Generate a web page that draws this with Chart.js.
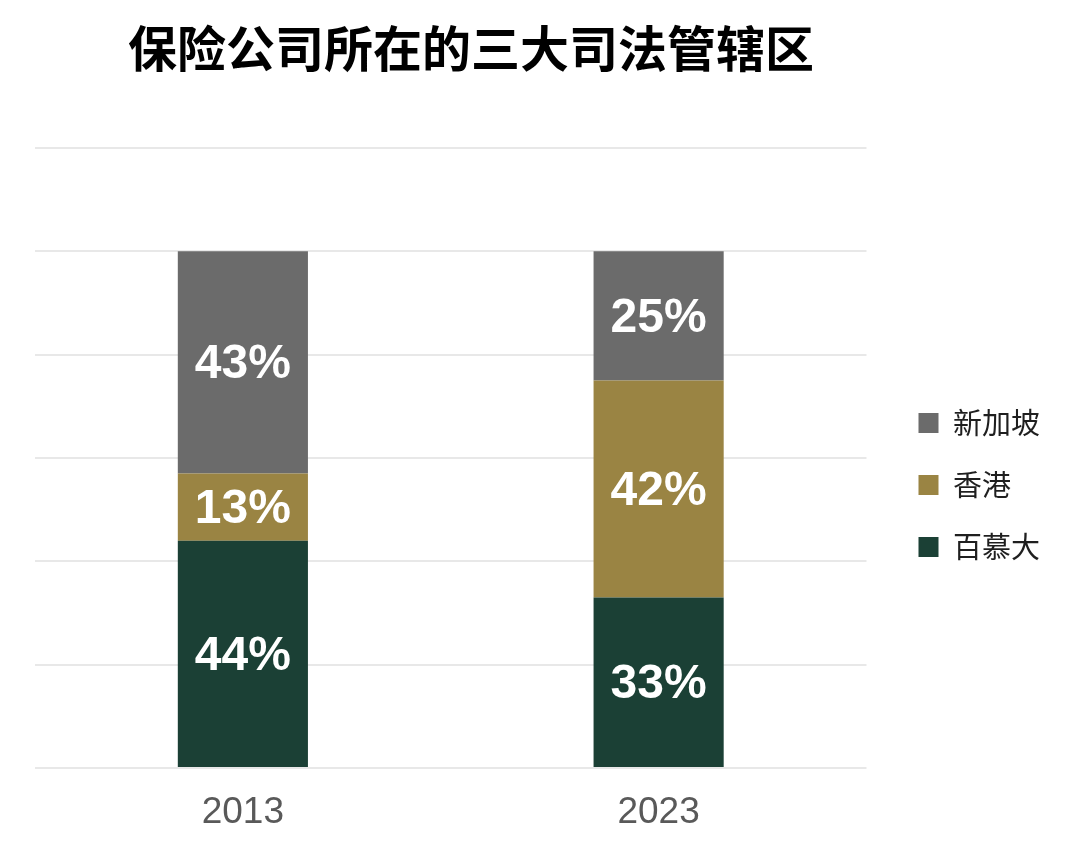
<!DOCTYPE html>
<html>
<head>
<meta charset="utf-8">
<script src="https://cdn.jsdelivr.net/npm/chart.js@4/dist/chart.umd.min.js"></script>
<style>
  html, body { margin: 0; padding: 0; background: #ffffff; }
  #wrap { width: 1078px; height: 854px; position: relative; }
</style>
</head>
<body>
<div id="wrap"><canvas id="c"></canvas></div>
<script>
const titleText = '保险公司所在的三大司法管辖区';
const categories = ['2013', '2023'];
const seriesNames = ['百慕大', '香港', '新加坡'];
const bermuda = [44, 33];
const hongkong = [13, 42];
const singapore = [43, 25];
const seriesColors = ['#1b4035', '#9a8443', '#6b6b6b'];

const titlePlugin = {
  id: 'customTitle',
  afterDraw(chart) {
    const ctx = chart.ctx;
    ctx.save();
    ctx.font = 'bold 49px "Noto Sans CJK SC", sans-serif';
    ctx.fillStyle = '#000000';
    ctx.textAlign = 'center';
    ctx.textBaseline = 'middle';
    ctx.fillText(titleText, 471, 48);
    ctx.restore();
  }
};

const barLabelPlugin = {
  id: 'barLabels',
  afterDatasetsDraw(chart) {
    const ctx = chart.ctx;
    ctx.save();
    ctx.font = 'bold 48px "Liberation Sans", Arial, sans-serif';
    ctx.fillStyle = '#ffffff';
    ctx.textAlign = 'center';
    ctx.textBaseline = 'middle';
    chart.data.datasets.forEach((ds, di) => {
      const meta = chart.getDatasetMeta(di);
      meta.data.forEach((bar, i) => {
        const v = ds.data[i];
        const yc = (bar.y + bar.base) / 2 + 2.5;
        ctx.fillText(v + '%', bar.x, yc);
      });
    });
    ctx.restore();
  }
};

new Chart(document.getElementById('c'), {
  type: 'bar',
  data: {
    labels: categories,
    datasets: [
      { label: seriesNames[0], data: bermuda, backgroundColor: seriesColors[0] },
      { label: seriesNames[1], data: hongkong, backgroundColor: seriesColors[1] },
      { label: seriesNames[2], data: singapore, backgroundColor: seriesColors[2] }
    ]
  },
  options: {
    responsive: true,
    maintainAspectRatio: false,
    animation: false,
    datasets: { bar: { categoryPercentage: 1, barPercentage: 0.313 } },
    layout: { padding: { top: 148, left: 35, right: 28, bottom: 0 } },
    scales: {
      x: {
        stacked: true,
        grid: { display: false, drawTicks: false },
        border: { display: false },
        ticks: { color: '#595959', font: { family: '"Liberation Sans", Arial, sans-serif', size: 37 }, padding: 23 },
        afterFit(s) { s.height = 86; }
      },
      y: {
        stacked: true,
        min: 0,
        max: 120,
        ticks: { display: false, stepSize: 20 },
        grid: { color: '#e8e8e8', lineWidth: 2, drawTicks: false },
        border: { display: false },
        afterFit(s) { s.width = 0; }
      },
      spacer: {
        type: 'linear',
        position: 'right',
        display: true,
        grid: { display: false, drawTicks: false },
        border: { display: false },
        ticks: { display: false },
        afterFit(s) { s.width = 19; }
      }
    },
    plugins: {
      title: { display: false },
      tooltip: { enabled: false },
      legend: {
        position: 'right',
        fullSize: false,
        reverse: true,
        title: { display: true, text: ' ', font: { size: 20 }, padding: { top: 15, bottom: 15 } },
        labels: {
          boxWidth: 20,
          boxHeight: 20,
          padding: 33,
          color: '#1f1f1f',
          font: { family: '"Noto Sans CJK SC", sans-serif', size: 29 }
        }
      }
    }
  },
  plugins: [titlePlugin, barLabelPlugin]
});
</script>
</body>
</html>
